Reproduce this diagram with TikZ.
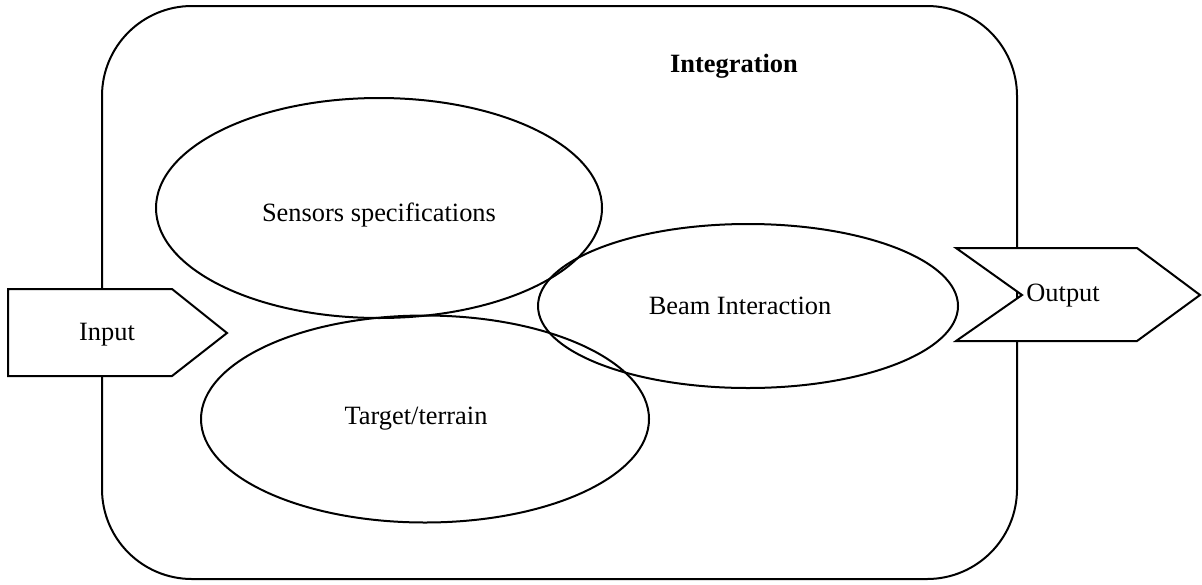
\documentclass[tikz,border=0pt]{standalone}
\usepackage{fontspec}
\setmainfont{Liberation Serif}
\usetikzlibrary{shapes.geometric}
\begin{document}
\begin{tikzpicture}[x=0.5pt,y=-0.5pt,
  every node/.style={font=\fontsize{13.2}{16}\selectfont},
  outline/.style={draw=black,line width=1pt},
  oval/.style={outline,ellipse,inner sep=0pt},
  arrowbox/.style={outline,fill=white,line join=miter}]
\useasboundingbox (0,0) rectangle (1202,584);
% main rounded box
\draw[outline,rounded corners=45pt] (102,6) rectangle (1017,579);
\node[font=\fontsize{13.2}{16}\selectfont\bfseries] (integ) at (734,66) {Integration};
% ellipses
\node[oval,minimum width=223pt,minimum height=110pt,
  label={[name=sensT,yshift=-3.5pt]center:Sensors specifications}] (sens) at (379,208) {};
\node[oval,minimum width=224pt,minimum height=103.5pt,
  label={[name=targT,xshift=-4.5pt]center:Target/terrain}] (targ) at (425,419) {};
\node[oval,minimum width=210pt,minimum height=82pt,
  label={[name=beamT,xshift=-4pt]center:Beam Interaction}] (beam) at (748,306) {};
% input
\coordinate (i1) at (8,289);
\coordinate (i2) at (172,289);
\coordinate (i3) at (227,333);
\coordinate (i4) at (172,376);
\coordinate (i5) at (8,376);
\draw[arrowbox] (i1) -- (i2) -- (i3) -- (i4) -- (i5) -- cycle;
\node (input) at (107,335) {Input};
% output
\coordinate (o1) at (956,248);
\coordinate (o2) at (1137,248);
\coordinate (o3) at (1200,295);
\coordinate (o4) at (1137,341);
\coordinate (o5) at (956,341);
\coordinate (o6) at (1022,295);
\draw[arrowbox] (o1) -- (o2) -- (o3) -- (o4) -- (o5) -- (o6) -- cycle;
\node[anchor=west,inner sep=0pt] (output) at (1026,296) {Output};
\end{tikzpicture}
\end{document}
